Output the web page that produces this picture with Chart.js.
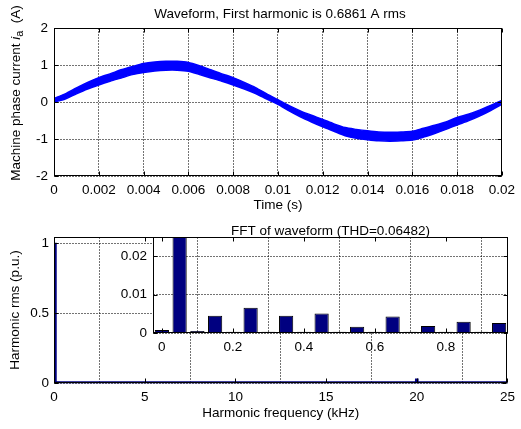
<!DOCTYPE html>
<html>
<head>
<meta charset="utf-8">
<script src="https://cdn.jsdelivr.net/npm/chart.js@4/dist/chart.umd.min.js"></script>
<style>
  html, body { margin: 0; padding: 0; background: #fff; }
  #wrap { position: relative; width: 521px; height: 429px; overflow: hidden; background: #fff; }
  canvas { position: absolute; }
</style>
</head>
<body>
<div id="wrap">
  <canvas id="wave" style="left:0;top:0;width:521px;height:215px" width="521" height="215"></canvas>
  <canvas id="spec" style="left:0;top:215px;width:521px;height:214px" width="521" height="214"></canvas>
  <canvas id="inset" style="left:110px;top:220px;width:411px;height:140px" width="411" height="140"></canvas>
</div>
<script>
// ---- Phase current over one 50 Hz period: upper / lower edge of the ripple band (A)
const timeS = [0, 0.0005, 0.001, 0.0015, 0.002, 0.0025, 0.003, 0.0035, 0.004, 0.0045,
  0.005, 0.0055, 0.006, 0.0065, 0.007, 0.0075, 0.008, 0.0085, 0.009, 0.0095,
  0.01, 0.0105, 0.011, 0.0115, 0.012, 0.0125, 0.013, 0.0135, 0.014, 0.0145,
  0.015, 0.0155, 0.016, 0.0165, 0.017, 0.0175, 0.018, 0.0185, 0.019, 0.0195, 0.02];
const currentUpper = [0.10, 0.22, 0.38, 0.53, 0.66, 0.76, 0.87, 0.96, 1.04, 1.08,
  1.10, 1.10, 1.07, 0.98, 0.87, 0.76, 0.66, 0.53, 0.39, 0.22,
  0.06, -0.10, -0.24, -0.36, -0.47, -0.59, -0.69, -0.74, -0.78, -0.81,
  -0.82, -0.81, -0.79, -0.71, -0.63, -0.54, -0.42, -0.33, -0.22, -0.09, 0.04];
const currentLower = [0.00, 0.08, 0.22, 0.35, 0.46, 0.56, 0.65, 0.74, 0.80, 0.84,
  0.86, 0.86, 0.83, 0.74, 0.65, 0.56, 0.46, 0.35, 0.23, 0.08,
  -0.06, -0.24, -0.40, -0.54, -0.67, -0.79, -0.91, -0.98, -1.02, -1.05,
  -1.06, -1.05, -1.03, -0.95, -0.85, -0.74, -0.62, -0.51, -0.38, -0.23, -0.06];
const timeTicks = [0, 0.002, 0.004, 0.006, 0.008, 0.01, 0.012, 0.014, 0.016, 0.018, 0.02];
const timeTickLabels = ['0', '0.002', '0.004', '0.006', '0.008', '0.01', '0.012', '0.014', '0.016', '0.018', '0.02'];
const currentTicks = [-2, -1, 0, 1, 2];
const currentTickLabels = ['-2', '-1', '0', '1', '2'];

// ---- Harmonic spectrum (p.u. of fundamental)
const harmonicFreqKHz = [0, 0.05, 0.1, 0.15, 0.2, 0.25, 0.3, 0.35, 0.4, 0.45,
  0.5, 0.55, 0.6, 0.65, 0.7, 0.75, 0.8, 0.85, 0.9, 0.95];
const harmonicRmsPU = [0.0008, 1.0, 0.0005, 0.0045, 0.0003, 0.0066, 0.0003, 0.0045, 0.0003, 0.0051,
  0.0003, 0.0016, 0.0003, 0.0043, 0.0003, 0.0018, 0.0003, 0.0029, 0.0003, 0.0026];
const switchingFreqKHz = [20];
const switchingRmsPU = [0.03];
const freqTicks = [0, 5, 10, 15, 20, 25];
const freqTickLabels = ['0', '5', '10', '15', '20', '25'];
const rmsTicks = [0, 0.5, 1];
const rmsTickLabels = ['0', '0.5', '1'];
const zoomFreqTicks = [0, 0.2, 0.4, 0.6, 0.8];
const zoomFreqTickLabels = ['0', '0.2', '0.4', '0.6', '0.8'];
const zoomRmsTicks = [0, 0.01, 0.02];
const zoomRmsTickLabels = ['0', '0.01', '0.02'];

const FAMILY = "'Liberation Sans', Arial, Helvetica, sans-serif";
const SIZE = 13.5;
Chart.defaults.font.family = FAMILY;
Chart.defaults.font.size = SIZE;
Chart.defaults.color = '#000';
Chart.defaults.animation = false;

const NAVY = '#000080';
const BLUE = '#0000ff';

// white plot background, axes box and inward tick marks
const frame = {
  id: 'frame',
  beforeDraw(chart) {
    const { ctx, chartArea: a } = chart;
    ctx.save();
    ctx.fillStyle = '#fff';
    ctx.fillRect(a.left, a.top, a.right - a.left, a.bottom - a.top);
    ctx.restore();
  },
  afterDraw(chart) {
    const { ctx, chartArea: a, scales } = chart;
    const L = Math.round(a.left) + 0.5, R = Math.round(a.right) - 0.5;
    const T = Math.round(a.top) + 0.5, B = Math.round(a.bottom) - 0.5;
    const len = 4;
    ctx.save();
    ctx.strokeStyle = '#000';
    ctx.lineWidth = 1;
    ctx.beginPath();
    scales.x.ticks.forEach(t => {
      const p = Math.round(scales.x.getPixelForValue(t.value)) + 0.5;
      ctx.moveTo(p, B); ctx.lineTo(p, B - len);
      ctx.moveTo(p, T); ctx.lineTo(p, T + len);
    });
    scales.y.ticks.forEach(t => {
      const p = Math.round(scales.y.getPixelForValue(t.value)) + 0.5;
      ctx.moveTo(L, p); ctx.lineTo(L + len, p);
      ctx.moveTo(R, p); ctx.lineTo(R - len, p);
    });
    ctx.stroke();
    ctx.strokeRect(L, T, R - L, B - T);
    ctx.restore();
  }
};

// free-standing text: titles and the styled current label
const captions = {
  id: 'captions',
  afterDraw(chart, args, opts) {
    const ctx = chart.ctx;
    (opts.items || []).forEach(it => {
      ctx.save();
      ctx.translate(it.x, it.y);
      if (it.rotate) ctx.rotate(it.rotate);
      ctx.fillStyle = '#000';
      ctx.textBaseline = 'alphabetic';
      ctx.textAlign = 'left';
      const parts = it.parts || [{ text: it.text }];
      const fontOf = p => `${p.italic ? 'italic ' : ''}${p.sub ? Math.round(SIZE * 0.78) : SIZE}px ${FAMILY}`;
      let w = 0;
      parts.forEach(p => { ctx.font = fontOf(p); w += ctx.measureText(p.text).width; });
      let x = -w / 2;
      parts.forEach(p => {
        ctx.font = fontOf(p);
        ctx.fillText(p.text, x, p.sub ? 3 : 0);
        x += ctx.measureText(p.text).width;
      });
      ctx.restore();
    });
  }
};

const grid = { color: 'rgba(0,0,0,0.55)', lineWidth: 1, drawTicks: false };
const border = { display: false, dash: [2, 1] };

function fixedTicks(values) {
  return axis => { axis.ticks = values.map(v => ({ value: v })); };
}

// ---------------- waveform ----------------
new Chart(document.getElementById('wave'), {
  type: 'line',
  data: {
    datasets: [
      {
        data: timeS.map((t, i) => ({ x: t, y: currentLower[i] })),
        borderColor: BLUE, borderWidth: 1.5, pointRadius: 0, tension: 0.25, fill: false
      },
      {
        data: timeS.map((t, i) => ({ x: t, y: currentUpper[i] })),
        borderColor: BLUE, borderWidth: 1.5, pointRadius: 0, tension: 0.25,
        backgroundColor: BLUE, fill: '-1'
      }
    ]
  },
  options: {
    responsive: false,
    layout: { padding: { top: 28, right: 13, left: 0, bottom: 0 }, autoPadding: false },
    plugins: {
      legend: { display: false }, tooltip: { enabled: false },
      captions: {
        items: [
          { text: 'Waveform, First harmonic is 0.6861 A rms', x: 280, y: 18 },
          {
            x: 19.5, y: 93, rotate: -Math.PI / 2,
            parts: [
              { text: 'Machine phase current ' },
              { text: 'i', italic: true },
              { text: 'a', sub: true },
              { text: '  (A)' }
            ]
          }
        ]
      }
    },
    scales: {
      x: {
        type: 'linear', min: 0, max: 0.02,
        afterBuildTicks: fixedTicks(timeTicks),
        afterFit: s => { s.height = 39; },
        grid, border,
        ticks: { padding: 6, maxRotation: 0, autoSkip: false, callback: (v, i) => timeTickLabels[i] },
        title: { display: true, text: 'Time (s)', padding: { top: 0, bottom: 2 } }
      },
      y: {
        type: 'linear', min: -2, max: 2,
        afterBuildTicks: fixedTicks(currentTicks),
        afterFit: s => { s.width = 54; },
        grid, border,
        ticks: { padding: 6, autoSkip: false, callback: (v, i) => currentTickLabels[i] }
      }
    }
  },
  plugins: [frame, captions]
});

// ---------------- full spectrum ----------------
const spectrumPoints = harmonicFreqKHz.map((f, i) => ({ x: f, y: harmonicRmsPU[i] }))
  .concat(switchingFreqKHz.map((f, i) => ({ x: f, y: switchingRmsPU[i] })));

new Chart(document.getElementById('spec'), {
  data: {
    datasets: [
      {
        type: 'bar', data: spectrumPoints,
        backgroundColor: NAVY, borderWidth: 0, barThickness: 3
      },
      {
        type: 'line', data: [{ x: 0, y: 0.006 }, { x: 25, y: 0.006 }],
        borderColor: NAVY, borderWidth: 2, pointRadius: 0, clip: 4
      }
    ]
  },
  options: {
    responsive: false,
    layout: { padding: { top: 22, right: 12, left: 0, bottom: 0 }, autoPadding: false },
    plugins: { legend: { display: false }, tooltip: { enabled: false } },
    scales: {
      x: {
        type: 'linear', min: 0, max: 25, offset: false,
        afterBuildTicks: fixedTicks(freqTicks),
        afterFit: s => { s.height = 46; },
        grid, border,
        ticks: { padding: 6, maxRotation: 0, autoSkip: false, callback: (v, i) => freqTickLabels[i] },
        title: { display: true, text: 'Harmonic frequency (kHz)', padding: { top: 0, bottom: 8 } }
      },
      y: {
        type: 'linear', min: 0, max: 1.043,
        afterBuildTicks: fixedTicks(rmsTicks),
        afterFit: s => { s.width = 54; },
        grid, border,
        ticks: { padding: 5, autoSkip: false, callback: (v, i) => rmsTickLabels[i] },
        title: { display: true, text: 'Harmonic rms (p.u.)', padding: { top: 7, bottom: 0 } }
      }
    }
  },
  plugins: [frame]
});

// ---------------- low-frequency zoom ----------------
new Chart(document.getElementById('inset'), {
  type: 'bar',
  data: {
    datasets: [{
      data: harmonicFreqKHz.map((f, i) => ({ x: f, y: harmonicRmsPU[i] })),
      backgroundColor: NAVY, borderColor: '#000', borderWidth: 1,
      categoryPercentage: 1, barPercentage: 0.8
    }]
  },
  options: {
    responsive: false,
    layout: { padding: { top: 17, right: 13, left: 0, bottom: 0 }, autoPadding: false },
    plugins: {
      legend: { display: false }, tooltip: { enabled: false },
      captions: { items: [{ text: 'FFT of waveform (THD=0.06482)', x: 220.5, y: 15 }] }
    },
    scales: {
      x: {
        type: 'linear', min: -0.025, max: 0.975, offset: false,
        afterBuildTicks: fixedTicks(zoomFreqTicks),
        afterFit: s => { s.height = 27; },
        grid, border,
        ticks: { padding: 6, maxRotation: 0, autoSkip: false, callback: (v, i) => zoomFreqTickLabels[i] }
      },
      y: {
        type: 'linear', min: 0, max: 0.025,
        afterBuildTicks: fixedTicks(zoomRmsTicks),
        afterFit: s => { s.width = 43; },
        grid, border,
        ticks: { padding: 6, autoSkip: false, callback: (v, i) => zoomRmsTickLabels[i] }
      }
    }
  },
  plugins: [frame, captions]
});
</script>
</body>
</html>
